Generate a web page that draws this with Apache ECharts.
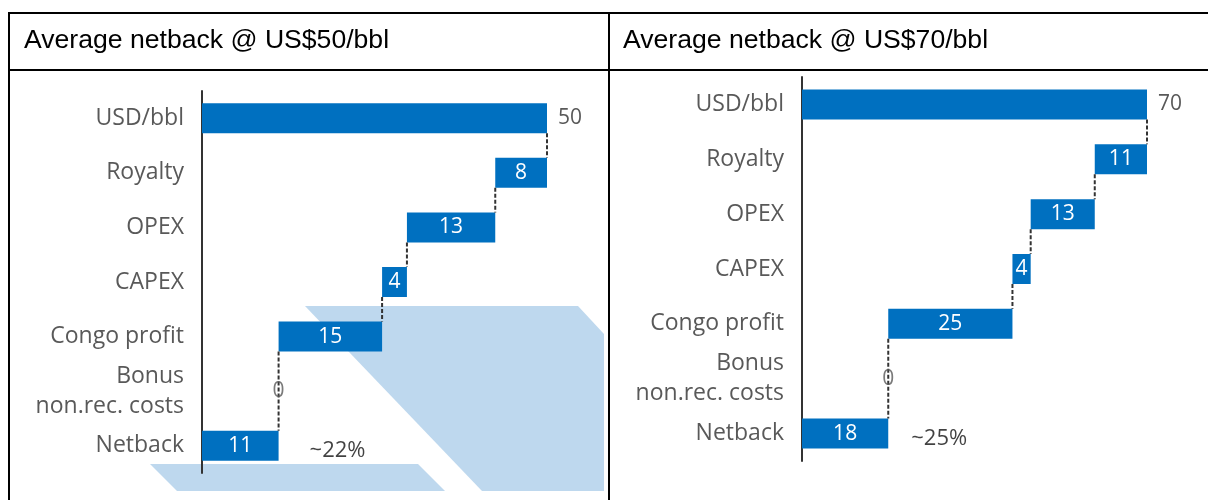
<!DOCTYPE html>
<html>
<head>
<meta charset="utf-8">
<script src="https://cdn.jsdelivr.net/npm/echarts@6/dist/echarts.min.js"></script>
<style>
html,body{margin:0;padding:0;background:#fff;}
#c{width:1208px;height:500px;}
</style>
</head>
<body>
<div id="c"></div>
<script>
// ---- data ----
const categories = ['USD/bbl', 'Royalty', 'OPEX', 'CAPEX', 'Congo profit', 'Bonus\nnon.rec. costs', 'Netback'];
const isTotal = [true, false, false, false, false, false, true];
const values50 = [50, 7.5, 12.8, 3.6, 15.0, 0, 11.1];
const values70 = [70, 10.6, 13.0, 3.7, 25.2, 0, 17.5];
const labels50 = ['50', '8', '13', '4', '15', '0', '11'];
const labels70 = ['70', '11', '13', '4', '25', '0', '18'];
const pctLabels = ['~22%', '~25%'];
const titles = ['Average netback @ US$50/bbl', 'Average netback @ US$70/bbl'];

// ---- style ----
const BLUE = '#0070C0';
const GRAY = '#595959';
const BAR = 30;
const FONT = '"Open Sans", "Noto Sans", sans-serif';

function bases(vals) {
  const out = [];
  let run = vals[0];
  vals.forEach((v, i) => {
    if (isTotal[i]) { out.push(0); }
    else { run -= v; out.push(run); }
  });
  return out;
}

function buildSeries(vals, labs, pct, idx, pctDist) {
  const b = bases(vals);
  const ends = vals.map((v, i) => b[i] + v);
  const conn = [];
  for (let i = 0; i < vals.length - 1; i++) {
    if (vals[i] === 0 && !isTotal[i]) continue;
    let j = i + 1;
    while (j < vals.length - 1 && vals[j] === 0) j++;
    conn.push([ends[j], i, j]);
  }
  const n = vals.length;
  return [
    {
      type: 'bar', xAxisIndex: idx, yAxisIndex: idx, stack: 's' + idx,
      barWidth: BAR, silent: true,
      itemStyle: { color: 'transparent' },
      data: b
    },
    {
      type: 'bar', xAxisIndex: idx, yAxisIndex: idx, stack: 's' + idx,
      barWidth: BAR,
      itemStyle: { color: BLUE },
      data: vals.map((v, i) => {
        let lab;
        if (i === 0) lab = { show: true, position: 'right', distance: 11, color: GRAY };
        else if (v === 0) lab = { show: false };
        else lab = { show: true, position: 'inside', color: '#ffffff' };
        return { value: v, label: lab };
      }),
      label: {
        show: true, fontFamily: FONT, fontSize: 21,
        formatter: p => labs[p.dataIndex]
      }
    },
    {
      type: 'custom', xAxisIndex: idx, yAxisIndex: idx, z: 3,
      data: conn,
      encode: { x: 0, y: 1 },
      renderItem: (params, api) => {
        const p1 = api.coord([api.value(0), api.value(1)]);
        const p2 = api.coord([api.value(0), api.value(2)]);
        return {
          type: 'line',
          shape: { x1: p1[0], y1: p1[1] + BAR / 2, x2: p2[0], y2: p2[1] - BAR / 2 },
          style: { stroke: '#333333', lineWidth: 2, lineDash: [4, 2] }
        };
      }
    },
    {
      // zero-valued items: label centred on the connector
      type: 'scatter', xAxisIndex: idx, yAxisIndex: idx, z: 4,
      symbolSize: 0,
      data: vals.map((v, i) => (v === 0 ? [b[i], i, labs[i]] : null)).filter(d => d),
      label: {
        show: true, position: 'inside', formatter: p => p.value[2],
        color: GRAY, fontFamily: FONT, fontSize: 21
      }
    },
    {
      type: 'scatter', xAxisIndex: idx, yAxisIndex: idx,
      symbolSize: 0,
      data: [[vals[n - 1], n - 1]],
      label: {
        show: true, position: 'right', distance: pctDist, offset: [0, 5],
        formatter: pct, color: '#111111', fontFamily: FONT, fontSize: 22
      }
    }
  ];
}

function yAxis(idx) {
  return {
    gridIndex: idx, type: 'category', data: categories, inverse: true,
    axisLine: { show: true, lineStyle: { color: '#333333', width: 2 } },
    axisTick: { show: false },
    splitLine: { show: false },
    axisLabel: {
      color: GRAY, fontFamily: FONT, fontSize: 23, margin: 18, lineHeight: 30,
      padding: [5, 0, 0, 0]
    }
  };
}

const LB = '#bed8ee';
const option = {
  animation: false,
  backgroundColor: '#ffffff',
  graphic: [
    { type: 'polygon', z: 0, shape: { points: [[305, 306], [578, 306], [604, 334], [604, 491], [482, 491]] }, style: { fill: LB } },
    { type: 'polygon', z: 0, shape: { points: [[150, 464], [418, 464], [445, 491], [177, 491]] }, style: { fill: LB } },
    { type: 'line', shape: { x1: 9, y1: 13, x2: 1208, y2: 13 }, style: { stroke: '#000', lineWidth: 2 } },
    { type: 'line', shape: { x1: 9, y1: 70, x2: 1208, y2: 70 }, style: { stroke: '#000', lineWidth: 2 } },
    { type: 'line', shape: { x1: 9, y1: 12, x2: 9, y2: 500 }, style: { stroke: '#000', lineWidth: 2 } },
    { type: 'line', shape: { x1: 609, y1: 12, x2: 609, y2: 500 }, style: { stroke: '#000', lineWidth: 2 } },
    { type: 'text', x: 24, y: 41, style: { text: titles[0], font: '26.6px "Liberation Sans", Arial, sans-serif', fill: '#000', textVerticalAlign: 'middle' } },
    { type: 'text', x: 623, y: 41, style: { text: titles[1], font: '26.6px "Liberation Sans", Arial, sans-serif', fill: '#000', textVerticalAlign: 'middle' } }
  ],
  grid: [
    { left: 202, top: 91, width: 345, height: 382 },
    { left: 802, top: 77, width: 345, height: 384 }
  ],
  xAxis: [
    { gridIndex: 0, type: 'value', min: 0, max: values50[0], show: false },
    { gridIndex: 1, type: 'value', min: 0, max: values70[0], show: false }
  ],
  yAxis: [yAxis(0), yAxis(1)],
  series: [].concat(
    buildSeries(values50, labels50, pctLabels[0], 0, 31),
    buildSeries(values70, labels70, pctLabels[1], 1, 23)
  )
};

const chart = echarts.init(document.getElementById('c'), null, { renderer: 'canvas' });
chart.setOption(option);
</script>
</body>
</html>
